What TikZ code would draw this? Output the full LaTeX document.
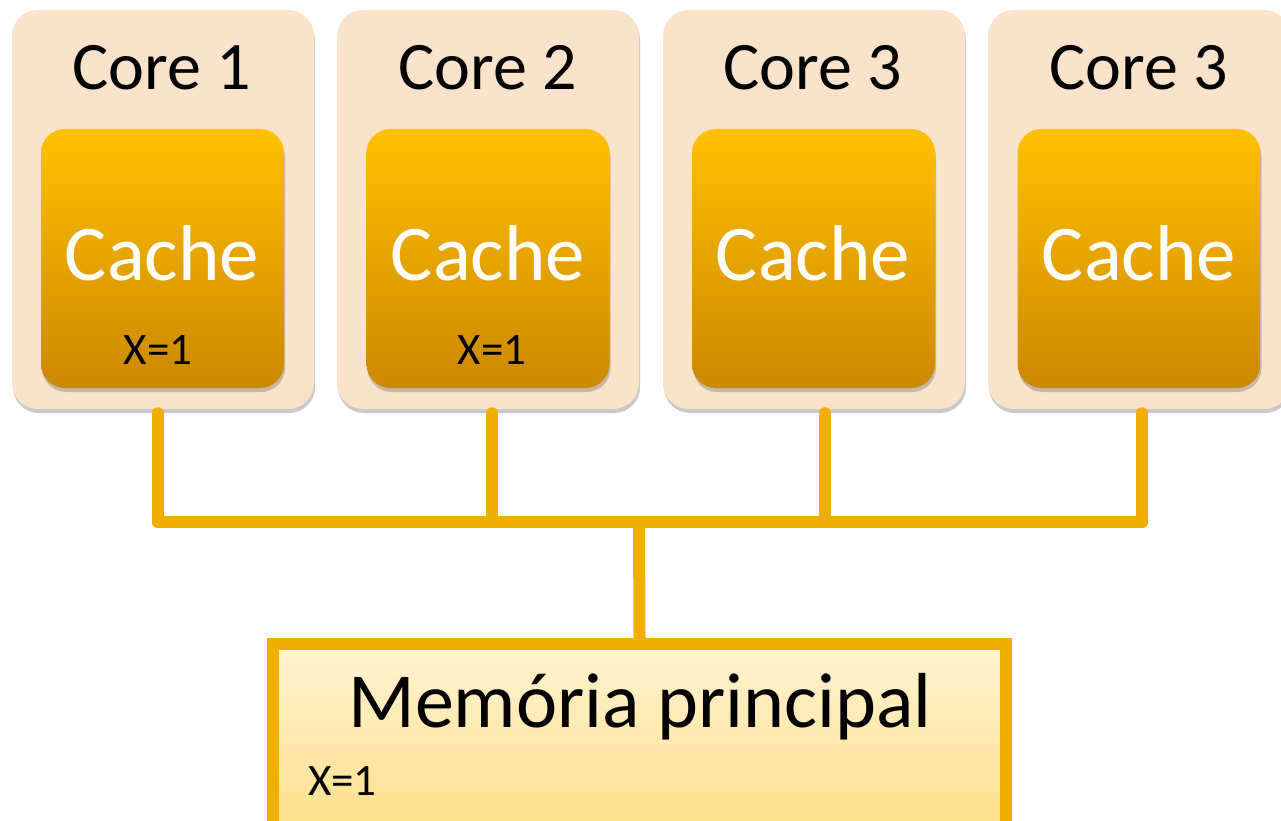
\documentclass[tikz,border=0pt]{standalone}
\usepackage{fontspec}
\setmainfont{Carlito}
\usetikzlibrary{shadows,shadings}
\definecolor{corefill}{HTML}{FAE3CA}
\definecolor{cachetop}{HTML}{FFC000}
\definecolor{cachebot}{HTML}{CC8800}
\definecolor{busc}{HTML}{F0AE00}
\definecolor{memtop}{HTML}{FFF3D3}
\definecolor{membot}{HTML}{FEDF88}
\tikzset{
  corebox/.style={rounded corners=26pt, fill=corefill, minimum width=302pt, minimum height=399pt, inner sep=0pt,
     drop shadow={shadow xshift=1pt, shadow yshift=-4pt, opacity=.35, fill=black!60}},
  cachebox/.style={rounded corners=24pt, top color=cachetop, bottom color=cachebot, minimum width=243pt, minimum height=259pt, inner sep=0pt,
     drop shadow={shadow xshift=1pt, shadow yshift=-4pt, opacity=.35, fill=black!60}},
  corelabel/.style={font=\fontsize{68}{80}\selectfont, anchor=base, inner sep=0pt},
  cachelabel/.style={font=\fontsize{79}{90}\selectfont, text=white, anchor=base, inner sep=0pt},
  valuelabel/.style={font=\fontsize{45}{52}\selectfont, anchor=base, inner sep=0pt},
  bus/.style={draw=busc, line width=12pt, line cap=round, line join=round},
  membox/.style={draw=busc, line width=12pt, top color=memtop, bottom color=membot, minimum width=733pt, minimum height=190pt, inner sep=0pt},
}
\begin{document}
\begin{tikzpicture}[x=1pt,y=-1pt]
\clip (0,0) rectangle (1281,821);
\fill[white] (0,0) rectangle (1281,821);
% cores
\node[corebox] (core1) at (163,209.5) {};
\node[corebox] (core2) at (488,209.5) {};
\node[corebox] (core3) at (814,209.5) {};
\node[corebox] (core4) at (1139,209.5) {};
\node[cachebox] (cache1) at (162.5,258.5) {};
\node[cachebox] (cache2) at (488,258.5) {};
\node[cachebox] (cache3) at (813.5,258.5) {};
\node[cachebox] (cache4) at (1139,258.5) {};
\node[corelabel] (l1) at (162,90) {Core 1};
\node[corelabel] (l2) at (488,90) {Core 2};
\node[corelabel] (l3) at (813,90) {Core 3};
\node[corelabel] (l4) at (1139,90) {Core 3};
\node[cachelabel] (k1) at (162,280) {Cache};
\node[cachelabel] (k2) at (488,280) {Cache};
\node[cachelabel] (k3) at (813,280) {Cache};
\node[cachelabel] (k4) at (1139,280) {Cache};
\node[valuelabel] (v1) at (158,364) {X=1};
\node[valuelabel] (v2) at (492,364) {X=1};
% memory
\node[membox] (mem) at (639.5,739) {};
\node[font=\fontsize{78}{90}\selectfont, anchor=base, inner sep=0pt] (memlabel) at (640,727) {Memória principal};
\node[valuelabel, anchor=base west] (v3) at (308,795) {X=1};
% bus
\coordinate (b1) at (158,522);
\coordinate (b2) at (492,522);
\coordinate (b3) at (825,522);
\coordinate (b4) at (1142,522);
\coordinate (bm) at (639,522);
\draw[bus] ([xshift=-5pt,yshift=-4pt]core1.south) -- (b1);
\draw[bus] ([xshift=4pt,yshift=-4pt]core2.south) -- (b2);
\draw[bus] ([xshift=11pt,yshift=-4pt]core3.south) -- (b3);
\draw[bus] ([xshift=3pt,yshift=-4pt]core4.south) -- (b4);
\draw[bus] (b1) -- (b4);
\draw[bus, line cap=butt] (bm) -- (mem.north);
\end{tikzpicture}
\end{document}
